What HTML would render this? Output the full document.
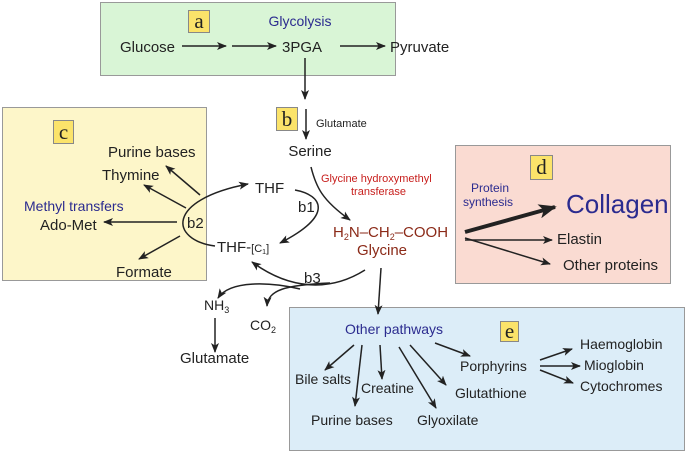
<!DOCTYPE html>
<html><head><style>
html,body{margin:0;padding:0;background:#fff}
svg{display:block;font-family:"Liberation Sans",sans-serif}
</style></head><body>
<svg width="685" height="451" viewBox="0 0 685 451" xmlns="http://www.w3.org/2000/svg">
<defs>
<marker id="ah" viewBox="0 0 10 10" refX="9" refY="5" markerWidth="10" markerHeight="10" orient="auto-start-reverse" markerUnits="userSpaceOnUse"><path d="M0,1 L10,5 L0,9 L2.5,5 z" fill="#222"/></marker>
<marker id="ahb" viewBox="0 0 10 10" refX="9" refY="5" markerWidth="18" markerHeight="18" orient="auto" markerUnits="userSpaceOnUse"><path d="M0,1 L10,5 L0,9 L2.5,5 z" fill="#222"/></marker>
</defs>
<rect x="100.5" y="2.5" width="295" height="73" fill="#d9f5d6" stroke="#999"/>
<rect x="2.5" y="107.5" width="204" height="173" fill="#fdf6c9" stroke="#999"/>
<rect x="455.5" y="145.5" width="215" height="138" fill="#fadbd2" stroke="#999"/>
<rect x="289.5" y="307.5" width="395" height="143" fill="#dcedf8" stroke="#999"/>
<g font-family="Liberation Serif,serif" font-size="21" fill="#222" text-anchor="middle">
<rect x="188.5" y="10.5" width="21" height="22" fill="#fbe36a" stroke="#888"/><text x="199" y="28">a</text>
<rect x="276.5" y="107.5" width="21" height="23" fill="#fbe36a" stroke="#888"/><text x="287" y="126">b</text>
<rect x="53.5" y="120.5" width="20" height="23" fill="#fbe36a" stroke="#888"/><text x="63.5" y="139">c</text>
<rect x="530.5" y="155.5" width="22" height="24" fill="#fbe36a" stroke="#888"/><text x="541.5" y="174">d</text>
<rect x="500.5" y="321.5" width="18" height="20" fill="#fbe36a" stroke="#888"/><text x="509.5" y="338">e</text>
</g>
<g fill="none" stroke="#222" stroke-width="1.5" marker-end="url(#ah)">
<line x1="182" y1="46" x2="226" y2="46"/>
<line x1="232" y1="46" x2="276" y2="46"/>
<line x1="340" y1="46" x2="385" y2="46"/>
<line x1="305" y1="58" x2="305" y2="99"/>
<line x1="306" y1="109" x2="306" y2="139"/>
<path d="M311,167 C316,187 322,200 350,220"/>
<path d="M295,190 C322,195 335,215 280,243"/>
<path d="M215,246 C170,240 165,200 248,184"/>
<line x1="200" y1="195" x2="166" y2="166"/>
<line x1="186" y1="208" x2="144" y2="185"/>
<line x1="177" y1="222" x2="104" y2="222"/>
<line x1="180" y1="236" x2="139" y2="259"/>
<path d="M365,270 C330,292 290,290 252,262"/>
<path d="M300,289 C270,282 230,280 218,298"/>
<path d="M330,283 C285,285 268,290 267,306"/>
<line x1="215" y1="318" x2="215" y2="352"/>
<line x1="381" y1="268" x2="378" y2="314"/>
<line x1="465" y1="240" x2="552" y2="240"/>
<line x1="465" y1="238" x2="550" y2="264"/>
<line x1="354" y1="345" x2="325" y2="370"/>
<line x1="362" y1="345" x2="355" y2="406"/>
<line x1="380" y1="345" x2="382" y2="379"/>
<line x1="399" y1="347" x2="436" y2="408"/>
<line x1="410" y1="345" x2="446" y2="385"/>
<line x1="435" y1="343" x2="470" y2="356"/>
<line x1="540" y1="360" x2="572" y2="349"/>
<line x1="540" y1="366" x2="580" y2="366"/>
<line x1="540" y1="370" x2="573" y2="383"/>
</g>
<line x1="465" y1="232" x2="555" y2="207" stroke="#222" stroke-width="4" marker-end="url(#ahb)"/>
<g font-size="15" fill="#222">
<text x="300" y="26" text-anchor="middle" fill="#2b2b8f" font-size="14">Glycolysis</text>
<text x="120" y="52">Glucose</text>
<text x="282" y="52">3PGA</text>
<text x="390" y="52">Pyruvate</text>
<text x="316" y="127" font-size="11">Glutamate</text>
<text x="310" y="156" text-anchor="middle">Serine</text>
<text x="321" y="182" font-size="11" fill="#c8201e">Glycine hydroxymethyl</text>
<text x="351" y="195" font-size="11" fill="#c8201e">transferase</text>
<text x="255" y="193">THF</text>
<text x="298" y="212">b1</text>
<text x="187" y="228">b2</text>
<text x="217" y="252">THF-<tspan font-size="11">[C</tspan><tspan font-size="7" dy="2">1</tspan><tspan font-size="11" dy="-2">]</tspan></text>
<text x="333" y="237" fill="#8b2a18">H<tspan font-size="9" dy="3">2</tspan><tspan dy="-3">N–CH</tspan><tspan font-size="9" dy="3">2</tspan><tspan dy="-3">–COOH</tspan></text>
<text x="382" y="255" text-anchor="middle" fill="#8b2a18">Glycine</text>
<text x="304" y="283">b3</text>
<text x="108" y="157">Purine bases</text>
<text x="102" y="180">Thymine</text>
<text x="24" y="211" fill="#2b2b8f" font-size="14">Methyl transfers</text>
<text x="40" y="230">Ado-Met</text>
<text x="116" y="277">Formate</text>
<text x="204" y="310" font-size="14">NH<tspan font-size="9" dy="3">3</tspan></text>
<text x="250" y="330" font-size="14">CO<tspan font-size="9" dy="3">2</tspan></text>
<text x="180" y="363">Glutamate</text>
<text x="471" y="192" font-size="12" fill="#2b2b8f">Protein</text>
<text x="463" y="206" font-size="12" fill="#2b2b8f">synthesis</text>
<text x="566" y="213" font-size="26" fill="#2b2b8f">Collagen</text>
<text x="557" y="244">Elastin</text>
<text x="563" y="270">Other proteins</text>
<g font-size="14">
<text x="345" y="334" fill="#2b2b8f">Other pathways</text>
<text x="295" y="384">Bile salts</text>
<text x="361" y="393">Creatine</text>
<text x="311" y="425">Purine bases</text>
<text x="417" y="425">Glyoxilate</text>
<text x="455" y="398">Glutathione</text>
<text x="460" y="371">Porphyrins</text>
<text x="580" y="349">Haemoglobin</text>
<text x="584" y="370">Mioglobin</text>
<text x="580" y="391">Cytochromes</text>
</g>
</g>
</svg>
</body></html>
